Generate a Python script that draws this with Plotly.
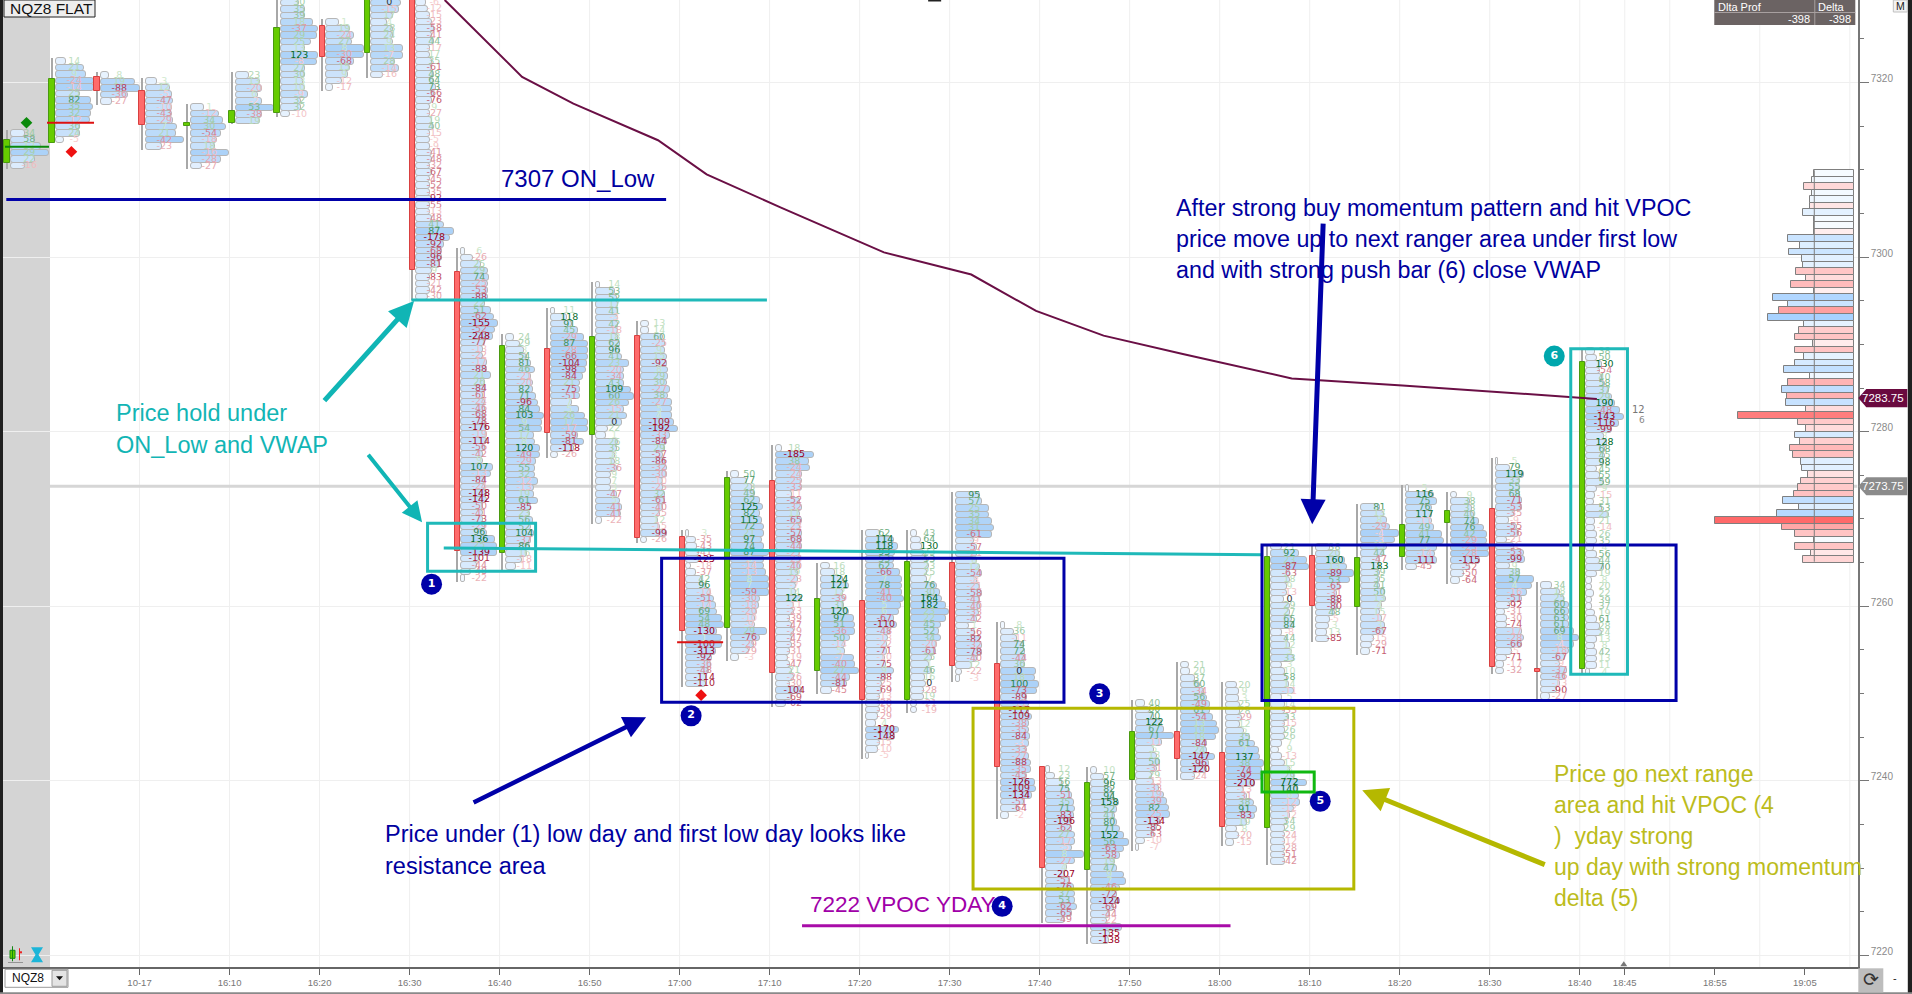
import plotly.graph_objects as go

# ---------- axis calibration ----------
PX_W, PX_H = 1857.7, 966.7
def fx(px): return (px - 139.5) / 9.0
def fy(py): return 7329.456 - py / 8.725
def sx(px): return px / PX_W
def sy(py): return 1 - py / PX_H

# ---------- data ----------
bar_times = [-14.7,-9.7,-4.7,0.3,5.3,10.3,15.3,20.3,25.3,30.3,35.3,40.3,45.3,50.3,55.3,60.3,65.3,70.3,
             75.3,80.3,85.3,90.3,95.3,100.3,105.3,110.3,115.3,120.3,125.3,130.3,135.3,140.3,145.3,150.3,155.3,160.3]
bar_tops = [7314.56,7322.81,7321.2,7320.52,7317.54,7321.2,7329.5,7327.28,7329.5,7329.55,7301.03,7291.18,
            7294.19,7297.17,7292.7,7268.71,7275.47,7278.45,7264.96,7268.71,7268.71,7273.1,7258.17,7241.66,
            7241.58,7249.23,7253.62,7251.33,7267.14,7267.11,7271.69,7273.87,7273.1,7276.96,7262.75,7289.57]
opens = [7310.77,7313.07,7320.67,7319.06,7315.07,7315.36,7316.5,7326.48,7323.38,7330.03,7298.28,7266.07,
         7289.46,7279.6,7290.95,7267.9,7257.48,7274.36,7252.55,7260.61,7249.23,7264.93,7253.35,7241.58,
         7229.74,7240.06,7245.59,7243.15,7234.56,7265.77,7259.92,7265.65,7269.51,7271.12,7252.84,7252.78]
closes = [7313.41,7320.4,7319.03,7315.13,7315.4,7316.73,7326.25,7322.92,7330.03,7298.51,7266.31,7289.8,
          7279.83,7290.83,7267.79,7257.14,7274.67,7252.32,7260.84,7249.23,7265.08,7253.16,7241.55,7229.97,
          7239.75,7245.59,7242.46,7234.67,7265.62,7260.0,7265.54,7269.32,7270.89,7252.99,7252.49,7287.97]

d00 = [34,58,12,29,22,-16]
v00 = [14,24,30,38,24,14]
d01 = [14,21,9,-24,-14,25,82,35,32,-12,36,24,-5]
v01 = [10,28,30,38,38,24,35,37,35,34,24,24,8]
d02 = [8,19,-88,-36,-27]
v02 = [8,34,39,27,11]
d03 = [3,12,-5,-47,-10,-43,-29,7,21,-42,-23]
v03 = [11,24,26,27,26,26,27,31,30,38,16]
d04 = [1,-12,34,30,-54,-18,18,-16,-28,-27]
v04 = [13,28,32,35,30,26,24,38,30,11]
d05 = [23,13,-20,6,-2,53,-38,19]
v05 = [13,24,26,22,26,38,26,24]
d06 = [30,35,39,18,-37,29,25,13,123,-8,27,30,13,10,-9,32,32,-10]
v06 = [18,24,24,32,37,36,30,24,37,36,24,24,22,24,27,20,20,9]
d07 = [1,19,-24,27,8,-30,-68,15,9,-12,-17]
v07 = [13,24,28,26,38,38,28,24,22,16,7]
d08 = [0,-15,17,4,28,24,9,13,-7,28,-14,-16]
v08 = [30,28,22,16,22,22,22,32,32,24,28,12]
d09 = [-6,-12,-15,-23,-58,-41,44,-17,17,35,-61,48,64,73,-66,-76,9,-27,19,40,-15,-5,-9,-41,-48,-32,-67,-45,-52,-35,
       -92,-55,-13,-48,41,87,-178,-92,-68,-96,-81,9,-83,-21,-42,-30]
v09 = [10,12,14,16,18,16,18,14,14,16,16,18,18,20,18,16,14,14,16,18,14,14,14,16,16,14,16,14,14,14,
       16,14,14,16,28,38,34,28,26,26,24,16,14,14,14,12]
d10 = [6,-26,25,29,74,-25,-53,-88,22,51,-62,-155,-52,-248,-77,-13,-22,-17,-88,21,26,-84,-61,-24,-46,-68,-78,-176,
       -19,-114,-56,-42,9,107,-13,-84,-24,-148,-142,-50,-41,-73,-29,96,136,25,-139,-101,-44,-48,-22]
v10 = [4,12,20,27,28,27,27,27,24,30,33,37,34,32,24,22,22,26,26,30,24,24,22,24,24,24,24,26,26,26,24,22,22,32,30,24,24,
       26,26,22,22,22,24,26,34,36,36,18,16,10,4]
d11 = [24,29,3,54,81,46,-21,-20,82,71,-96,84,103,9,54,17,8,120,-49,-29,55,32,-12,-13,19,61,-85,23,56,52,104,-37,86,16,-18,-11]
v11 = [8,14,18,21,25,29,25,27,27,30,32,34,38,36,36,28,29,34,34,30,29,29,32,28,28,32,25,24,27,25,28,25,24,21,16,10]
d12 = [11,118,91,45,-29,87,-28,-66,-104,-98,-84,21,-75,-51,7,5,26,17,-17,-59,-81,-118,-26]
v12 = [4,16,21,27,33,37,37,37,36,35,32,29,29,29,21,28,34,37,37,27,33,23,7]
d13 = [14,53,52,17,41,-3,42,-18,18,62,96,41,23,-20,-34,43,109,60,26,-15,21,0,22,1,26,35,8,18,-36,9,7,3,-47,5,-41,-41,-22]
v13 = [4,19,21,22,22,22,22,22,22,24,24,26,33,28,28,28,35,38,33,28,31,26,12,10,22,21,19,19,21,15,15,15,21,24,26,25,6]
d14 = [13,14,60,-25,9,15,-92,8,29,30,-27,38,-27,5,4,-109,-192,-33,-84,29,-57,-86,-32,-30,-10,-25,32,-61,-40,-25,12,-15,-99,-26]
v14 = [8,8,22,24,24,26,26,27,27,26,29,27,31,31,31,33,37,29,26,24,22,24,26,26,22,22,24,24,22,19,17,19,26,6]
d15 = [3,-35,-43,-41,-125,-18,-37,42,96,-14,-51,-14,69,54,48,-130,1,-100,-313,-92,-36,-48,-114,-110]
v15 = [3,10,11,13,13,5,10,16,20,25,28,30,31,36,38,31,36,36,30,26,25,23,20,20]
d16 = [50,77,23,49,62,125,82,115,72,21,97,74,87,6,-14,-13,8,7,-59,-30,-18,-20,-10,-9,29,-76,-29,-29,-3]
v16 = [8,16,21,24,29,32,29,31,33,33,31,33,38,33,33,35,38,38,38,29,28,26,24,24,36,29,23,18,8]
d17 = [18,-185,38,-24,-24,-25,-33,-11,-52,-32,11,-65,-23,-57,-68,-44,-21,-23,-40,19,-23,-7,14,122,-11,-23,-39,-47,-29,-47,
       -35,-31,-19,-47,21,-26,-30,-104,-69,-62]
v17 = [6,38,33,34,26,26,26,16,24,26,24,26,24,26,26,26,24,24,24,22,22,20,20,26,18,18,14,16,18,16,16,14,12,14,16,18,14,26,16,10]
d18 = [16,18,124,121,12,-39,31,120,97,51,-36,50,-14,5,-7,-40,27,-44,-81,-45]
v18 = [9,14,22,28,22,24,23,28,33,34,34,29,24,24,33,34,38,29,26,11]
d19 = [62,114,118,93,53,62,-66,7,78,-41,-40,5,6,-67,-110,-48,-13,-22,-71,-10,-75,9,-88,-25,-69,-13,-28,-30,-29,4,-170,-148,-15,-10,-5]
v19 = [14,28,32,29,28,28,34,36,36,36,38,35,33,28,31,24,22,21,21,19,20,28,20,16,16,14,14,14,12,10,33,29,14,12,3]
d20 = [43,64,130,23,53,23,25,7,76,30,164,182,23,22,45,52,34,-20,-61,25,1,46,16,0,-28,19,-21,-19]
v20 = [6,10,11,13,16,18,16,16,26,29,31,35,38,35,30,28,30,26,25,21,18,21,14,15,13,13,6,6]
d21 = [95,57,25,35,34,31,-61,-9,-57,-21,8,12,-54,-8,-21,-58,-41,-40,-33,-42,1,-56,-82,-32,-78,-40,12,-22,-3]
v21 = [24,26,33,33,36,38,36,18,21,21,21,24,26,21,24,26,24,24,23,21,13,19,24,26,26,21,16,6,4]
d22 = [8,36,-11,74,72,-44,36,0,18,100,-73,-89,-11,-117,-109,-38,-35,-84,-3,-33,-27,-88,-35,-45,-126,-109,-134,-51,-64,-2]
v22 = [4,13,16,23,24,24,24,35,34,38,36,26,28,28,31,28,28,29,28,26,28,30,30,26,34,35,31,23,18,8]
d23 = [12,23,56,75,-51,35,71,-83,-196,-62,27,-17,-5,8,-27,4,-207,-51,-76,37,53,-62,-65,-49]
v23 = [4,9,16,23,26,28,29,28,26,26,29,29,26,38,29,21,19,24,28,29,29,31,26,19]
d24 = [10,57,96,82,94,158,52,41,80,71,152,56,-63,-58,19,47,9,7,-46,-72,-124,-69,-44,-22,6,-135,-138]
v24 = [6,13,18,21,23,28,26,24,26,29,33,38,33,29,24,26,33,35,29,26,29,23,19,16,31,19,18]
d25 = [40,60,70,122,67,71,-11,5,13,50,-31,29,-13,-33,-19,-39,82,-25,-134,-85,-63,-10,-7]
v25 = [9,14,18,26,28,38,26,18,21,24,21,16,18,23,28,31,33,34,24,21,18,9,3]
d26 = [21,20,37,60,-34,56,-49,61,-54,13,19,18,-84,24,-147,-96,-120,-24]
v26 = [8,9,14,19,23,26,29,29,32,36,38,35,26,26,34,28,26,14]
d27 = [20,9,3,25,28,-29,12,5,35,61,7,137,38,-74,-92,-210,-13,-31,38,91,-83,19,8,-20,-15]
v27 = [11,13,13,14,14,16,14,18,24,29,33,34,38,36,36,29,18,21,28,31,29,21,11,13,8]
d28 = [21,92,23,-87,-63,18,9,-13,0,29,27,65,84,-8,44,12,3,33,3,10,58,14,-11,5,14,-33,33,-15,26,26,7,9,-13,15,8,29,
       772,140,6,-12,-12,-12,34,29,-24,-12,-28,-51,-42]
v28 = [11,28,36,38,19,19,16,16,13,19,19,21,23,11,16,19,21,23,11,14,16,18,23,11,14,14,18,14,14,14,11,8,11,14,19,23,
       36,26,28,29,23,19,16,14,14,14,14,14,14]
d29 = [38,20,160,13,-89,53,-65,-31,-88,-80,48,-5,3,13,-85]
v29 = [14,24,29,31,38,34,24,21,23,21,19,14,13,11,13]
d30 = [81,13,8,-29,-4,-3,13,44,-47,183,39,35,41,50,13,4,15,-17,3,-67,-15,-29,-71]
v30 = [19,23,26,29,38,34,26,23,19,19,19,19,19,24,25,21,19,21,24,23,13,11,9]
d31 = [5,116,75,76,117,-11,49,41,77,3,-14,-111,-45]
v31 = [3,28,31,26,26,26,28,36,38,31,29,31,11]
d32 = [9,38,33,40,74,76,42,-29,-23,-28,-115,-52,-50,-64]
v32 = [6,19,21,23,28,33,36,36,38,38,29,19,13,9]
d33 = [5,79,119,33,55,68,-71,-53,-35,-9,-55,-56,-21,-4,-53,-99,9,38,57,4,-16,-51,-92,-31,-30,-74,-17,-28,-66,-5,-71,-17,-32]
v33 = [2,14,28,24,24,24,26,26,18,13,21,23,11,18,28,29,14,24,38,36,31,26,14,9,11,11,26,28,26,16,11,8,8]
d34 = [34,18,25,60,66,63,61,69,8,-4,-18,-67,-9,-37,-46,-13,-90,-27]
v34 = [11,19,23,28,28,28,28,33,38,33,28,24,19,26,24,19,16,9]
d35 = [38,50,130,-54,40,58,37,29,190,-48,-143,-116,-99,3,128,68,45,98,45,55,59,9,-15,31,53,21,21,-14,26,35,4,56,44,70,19,8,20,22,
       39,37,19,61,28,24,13,8,42,13,11,4]
v35 = [9,11,16,14,16,19,23,26,29,34,38,33,26,18,21,19,19,18,11,14,18,11,9,8,16,23,9,9,11,11,8,11,14,18,11,6,6,8,6,6,
       9,11,14,16,11,9,11,11,11,4]

delta_rows = [d00,d01,d02,d03,d04,d05,d06,d07,d08,d09,d10,d11,d12,d13,d14,d15,d16,d17,
              d18,d19,d20,d21,d22,d23,d24,d25,d26,d27,d28,d29,d30,d31,d32,d33,d34,d35]
vol_rows = [v00,v01,v02,v03,v04,v05,v06,v07,v08,v09,v10,v11,v12,v13,v14,v15,v16,v17,
            v18,v19,v20,v21,v22,v23,v24,v25,v26,v27,v28,v29,v30,v31,v32,v33,v34,v35]

vwap_times = [33.9,38,42.5,48.2,57.6,63,71.2,82.7,92.4,99.6,107.1,115.9,128,140.3,161.9]
vwap_vals = [7329.46,7325.26,7320.65,7317.58,7313.39,7309.48,7305.7,7300.54,7298.0,7293.83,7291.0,7288.9,7286.1,7285.3,7283.75]

session_top = 7309.6
session_vol = [40,42,-50,42,44,-44,51,40,40,-40,66,54,65,52,51,-58,-48,-63,-40,81,66,-75,86,50,-55,-59,-41,-59,50,59,
               70,44,-66,72,-67,68,-48,-116,-56,-48,59,-54,-64,-61,53,52,-46,-53,-56,-60,71,55,77,-139,-72,-59,40,-59,-43,-51]

x_tick_vals = [0,10,20,30,40,50,60,70,80,90,100,110,120,130,140,150,160,165,175,185]
x_tick_text = ["10-17","16:10","16:20","16:30","16:40","16:50","17:00","17:10","17:20","17:30","17:40","17:50",
               "18:00","18:10","18:20","18:30","18:40","18:45","18:55","19:05"]
grid_times = [0,10,20,30,40,50,60,70,80,90,100,110,120,130,140,150,160,165,170,180,190]
y_tick_vals = [7220,7240,7260,7280,7300,7320]

# ---------- styling helpers ----------
ROW = 0.75
PXMIN = 1 / 9.0
def mix(a, b, t):
    t = max(0, min(1, t))
    return "#%02x%02x%02x" % tuple(round(a[i] + (b[i] - a[i]) * t) for i in range(3))
def row_color(w): return mix((240, 247, 255), (172, 210, 248), (w - 4) / 34)
def text_color(v):
    m = abs(v)
    if v == 0: return "#333333"
    t = min(1, m / 125) ** 1.05
    if v > 0: return mix((212, 236, 208), (0, 105, 40), t)
    return mix((250, 212, 212), (155, 0, 35), t)

fig = go.Figure()

# footprint profile rows
ry, rb, rw, rc = [], [], [], []
tx, ty, tt, tc = [], [], [], []
for t, top, ds, vs in zip(bar_times, bar_tops, delta_rows, vol_rows):
    vs = (list(vs) + [10] * len(ds))[:len(ds)]
    for i, (d, v) in enumerate(zip(ds, vs)):
        p = top - ROW * (i + 0.5)
        ry.append(p); rb.append(t + 3.3 * PXMIN); rw.append(v * PXMIN); rc.append(row_color(v))
        tx.append(t + 22 * PXMIN); ty.append(p); tt.append(str(d)); tc.append(text_color(d))
fig.add_trace(go.Bar(orientation="h", y=ry, x=rw, base=rb, width=ROW,
                     marker=dict(color=rc, line=dict(color="#b6b6b6", width=1), cornerradius=3), hoverinfo="skip"))

# session delta profile at right
edge = fx(1854)
sy_p = [session_top - ROW * i for i in range(len(session_vol))]
def sess_color(v):
    w = abs(v)
    if v > 0: return mix((246, 251, 255), (168, 210, 255), (w - 40) / 46)
    return mix((255, 238, 238), (255, 160, 160), (w - 40) / 35) if w < 76 else mix((255, 160, 160), (255, 105, 105), (w - 76) / 63)
fig.add_trace(go.Bar(orientation="h", y=sy_p, x=[abs(v) * PXMIN for v in session_vol],
                     base=[edge - abs(v) * PXMIN for v in session_vol], width=ROW,
                     marker=dict(color=[sess_color(v) for v in session_vol], line=dict(color="#7f7f7f", width=1)),
                     hoverinfo="skip"))

# candles
lows = [top - ROW * len(ds) for top, ds in zip(bar_tops, delta_rows)]
fig.add_trace(go.Bar(x=bar_times, y=[t - l for t, l in zip(bar_tops, lows)], base=lows, width=2 * PXMIN,
                     marker=dict(color="#a8a8a8", line=dict(width=0)), hoverinfo="skip"))
fig.add_trace(go.Bar(x=bar_times, y=[abs(c - o) for o, c in zip(opens, closes)], base=[min(o, c) for o, c in zip(opens, closes)],
                     width=5.5 * PXMIN,
                     marker=dict(color=["#66cc00" if c >= o else "#ff6b6b" for o, c in zip(opens, closes)],
                                 line=dict(color=["#4a9a10" if c >= o else "#d84040" for o, c in zip(opens, closes)], width=1)),
                     hoverinfo="skip"))

# delta numbers
fig.add_trace(go.Scatter(x=tx, y=ty, mode="text", text=tt, textposition="middle center", cliponaxis=True,
                         textfont=dict(family="DejaVu Sans", size=9.5, color=tc), hoverinfo="skip"))

# VWAP
fig.add_trace(go.Scatter(x=vwap_times, y=vwap_vals, mode="lines", line=dict(color="#6a0f45", width=2), hoverinfo="skip"))

shapes = []
def rect_px(x0, y0, x1, y1, fill, line=None, width=1, layer="above"):
    shapes.append(dict(type="rect", xref="paper", yref="paper", x0=sx(x0), x1=sx(x1), y0=sy(y0), y1=sy(y1),
                       fillcolor=fill, line=dict(color=line or fill, width=width if line else 0), layer=layer))
def path_px(pts, fill):
    d = "M" + " L".join(f"{sx(a):.5f},{sy(b):.5f}" for a, b in pts) + " Z"
    shapes.append(dict(type="path", xref="paper", yref="paper", path=d, fillcolor=fill, line=dict(width=0), layer="above"))

# left band, price line, grid
shapes.append(dict(type="rect", x0=fx(0), x1=fx(50), y0=7218.66, y1=7329.456, fillcolor="#d4d4d4", line=dict(width=0), layer="below"))
for g in grid_times:
    shapes.append(dict(type="line", x0=g, x1=g, y0=7218.66, y1=7329.456, line=dict(color="#efefef", width=1), layer="below"))
shapes.append(dict(type="line", x0=fx(50), x1=fx(1857), y0=7273.75, y1=7273.75, line=dict(color="#d6d6d6", width=3), layer="below"))
shapes.append(dict(type="line", x0=fx(1814), x1=fx(1814), y0=7309.95, y1=7265.1, line=dict(color="#7f7f7f", width=1), layer="above"))

def hline(m0, m1, p0, p1, col, w=3):
    shapes.append(dict(type="line", x0=m0, x1=m1, y0=p0, y1=p1, line=dict(color=col, width=w), layer="above"))
def box(m0, m1, p0, p1, col, w=3):
    shapes.append(dict(type="rect", x0=m0, x1=m1, y0=p0, y1=p1, line=dict(color=col, width=w), fillcolor="rgba(0,0,0,0)", layer="above"))

BLUE, TEAL, OLIVE, GREEN, PURPLE = "#0000a8", "#1fb9b9", "#b5b800", "#10b810", "#a80ca8"
hline(-14.8, 58.5, 7306.6, 7306.6, BLUE)
hline(30.2, 69.7, 7295.07, 7295.07, TEAL)
hline(33.8, 124.7, 7266.68, 7265.9, TEAL)
hline(73.6, 121.2, 7223.4, 7223.4, PURPLE)
box(32, 44, 7269.5, 7264, TEAL)
box(58, 102.7, 7265.5, 7249, BLUE)
box(124.7, 170.7, 7267, 7249.2, BLUE)
box(92.6, 134.9, 7248.3, 7227.6, OLIVE)
box(124.7, 130.5, 7241, 7238.7, GREEN)
box(159, 165.3, 7289.5, 7252.2, TEAL)
# footprint markers
hline(fx(47), fx(94), fy(122.7), fy(122.7), "#dd1111", 2)
hline(fx(5), fx(49), fy(146.7), fy(146.7), "#0a8a0a", 2)
hline(fx(677), fx(723), fy(642), fy(642), "#dd1111", 2)

# window furniture
rect_px(0, 0, 3, 994, "#202020")
rect_px(1907.5, 0, 1912, 994, "#202020")
rect_px(0, 992, 1912, 994, "#8a8a8a")
rect_px(4, 0, 95, 17, "#eeeeee", "#222222", 1)
rect_px(928, 0, 941, 1.5, "#222222")
rect_px(1714, 0, 1855, 25, "#6b6363")
rect_px(1814, 0, 1815, 25, "#a8a0a0")
rect_px(1714, 12, 1855, 13, "#a8a0a0")
rect_px(1893, 0, 1907, 12, "#f2f2f2", "#c0c0c0", 1)
rect_px(5, 969, 68, 987, "#ffffff", "#9a9a9a", 1)
rect_px(52, 970, 67, 986, "#e4e4e4", "#9a9a9a", 1)
path_px([(56, 976), (63, 976), (59.5, 980)], "#111111")
rect_px(1858, 968, 1883, 992, "#bdbdbd")
# bottom-left icons
rect_px(8, 962, 23, 962.7, "#777777")
rect_px(10, 950, 15, 958, "#66cc00", "#118811", 1)
rect_px(12, 946, 13, 961, "#118811")
rect_px(19, 948, 20, 960, "#ee2222")
rect_px(20, 951, 22, 953, "#ee2222")
path_px([(31, 947), (43, 947), (38.5, 954.5), (43, 962), (31, 962), (35.5, 954.5)], "#1cb5d8")
# cursor marker on time axis
path_px([(1620, 966), (1627, 966), (1623.5, 961)], "#777777")
# price tags
path_px([(1866, 389), (1907, 389), (1907, 407), (1866, 407), (1858, 398)], "#6a0a3f")
path_px([(1866, 477), (1907, 477), (1907, 495), (1866, 495), (1858, 486)], "#8b8b8b")

ann = []
def label(px, py, text, color, size, xanchor="left", family="Liberation Sans"):
    ann.append(dict(x=sx(px), y=sy(py), xref="paper", yref="paper", text=text, showarrow=False, xanchor=xanchor,
                    yanchor="middle", align="left", font=dict(family=family, size=size, color=color)))
def arrow(x0, y0, x1, y1, color, w):
    ann.append(dict(x=fx(x1), y=fy(y1), ax=fx(x0), ay=fy(y0), xref="x", yref="y", axref="x", ayref="y", text="",
                    showarrow=True, arrowhead=2, arrowsize=1.0, arrowwidth=w, arrowcolor=color))

TBLUE, TTEAL, TOLIVE, TPURP = "#0000a0", "#12b5b5", "#bcbc1c", "#a000a8"
label(498.5, 178, "7307 ON_Low", TBLUE, 24)
label(113.5, 413, "Price hold under", TTEAL, 23.5)
label(113.5, 445, "ON_Low and VWAP", TTEAL, 23.5)
label(1173.5, 208, "After strong buy momentum pattern and hit VPOC", TBLUE, 23.3)
label(1173.5, 239, "price move up to next ranger area under first low", TBLUE, 23.3)
label(1173.5, 270, "and with strong push bar (6) close VWAP", TBLUE, 23.3)
label(383, 834, "Price under (1) low day and first low day looks like", TBLUE, 23.5)
label(383, 866, "resistance area", TBLUE, 23.5)
label(1552, 774, "Price go next range", TOLIVE, 23)
label(1552, 805, "area and hit VPOC (4", TOLIVE, 23)
label(1552, 836, ")  yday strong", TOLIVE, 23)
label(1552, 867, "up day with strong momentum", TOLIVE, 23)
label(1552, 898, "delta (5)", TOLIVE, 23)
label(808, 904, "7222 VPOC YDAY", TPURP, 22.5)
label(8, 8.5, "NQZ8 FLAT", "#111111", 15.5)
label(1716, 6.5, "Dlta Prof", "#ffffff", 11)
label(1816, 6.5, "Delta", "#ffffff", 11)
label(1812, 19, "-398", "#ffffff", 11, "right")
label(1853, 19, "-398", "#ffffff", 11, "right")
label(1900, 6, "M", "#222222", 10.5, "center")
label(10, 978, "NQZ8", "#111111", 12)
label(1870.5, 979, "⟳", "#333333", 19, "center", "DejaVu Sans")
label(1895, 978, "-", "#222222", 11, "center")
label(1638, 409, "12", "#777777", 10, "center", "DejaVu Sans")
label(1642, 420, "6", "#888888", 9, "center", "DejaVu Sans")
label(1883, 398, "7283.75", "#ffffff", 11.5, "center")
label(1883, 486, "7273.75", "#ffffff", 11.5, "center")

arrow(323, 402, 414, 301, "#10b5b5", 5)
arrow(367, 453, 422, 522, "#10b5b5", 4)
arrow(472, 803, 646, 717, BLUE, 4.5)
arrow(1323, 222, 1312, 524, BLUE, 5)
arrow(1546, 865, 1362, 790, OLIVE, 5)

# numbered callouts and diamonds
fig.add_trace(go.Scatter(x=[fx(431.5), fx(691), fx(1099.5), fx(1002), fx(1320), fx(1554)],
                         y=[fy(584), fy(715.5), fy(693.6), fy(906), fy(801), fy(356)],
                         mode="markers+text", text=["1", "2", "3", "4", "5", "6"], textposition="middle center",
                         textfont=dict(family="DejaVu Sans", size=11, color="#ffffff", weight="bold"),
                         marker=dict(size=21, color=[BLUE] * 5 + ["#00a7ad"]), hoverinfo="skip"))
fig.add_trace(go.Scatter(x=[fx(26.5), fx(71.4), fx(701)], y=[fy(122.7), fy(151.7), fy(695)], mode="markers",
                         marker=dict(symbol="diamond", size=9, color=["#0a8a0a", "#ee1111", "#ee1111"]), hoverinfo="skip"))

fig.update_layout(
    width=1912, height=994, autosize=False, showlegend=False, barmode="overlay",
    margin=dict(l=0, r=1912 - PX_W, t=0, b=994 - PX_H, pad=0, autoexpand=False),
    paper_bgcolor="#ffffff", plot_bgcolor="#ffffff", shapes=shapes, annotations=ann, bargap=0,
    xaxis=dict(range=[fx(0), fx(PX_W)], tickmode="array", tickvals=x_tick_vals, ticktext=x_tick_text, showgrid=False,
               zeroline=False, showline=True, linecolor="#666666", linewidth=2, ticks="outside", ticklen=6,
               tickcolor="#666666", tickfont=dict(family="Liberation Sans", size=9.5, color="#777777"), automargin=False),
    yaxis=dict(range=[fy(PX_H), fy(0)], side="right", tickmode="array", tickvals=y_tick_vals, showgrid=True,
               gridcolor="#efefef", gridwidth=1, zeroline=False, showline=True, linecolor="#777777", linewidth=1.5,
               ticks="outside", ticklen=9, tickcolor="#777777", tickformat="d", ticklabelshift=-4,
               tickfont=dict(family="Liberation Sans", size=10, color="#8a8a8a"), automargin=False,
               minor=dict(tickmode="linear", tick0=7220, dtick=5, ticks="outside", ticklen=4, tickcolor="#777777", showgrid=False)),
)

fig.write_html("out.html", config=dict(displayModeBar=False),
               post_script="document.body.style.margin='0';document.body.style.overflow='hidden';")
